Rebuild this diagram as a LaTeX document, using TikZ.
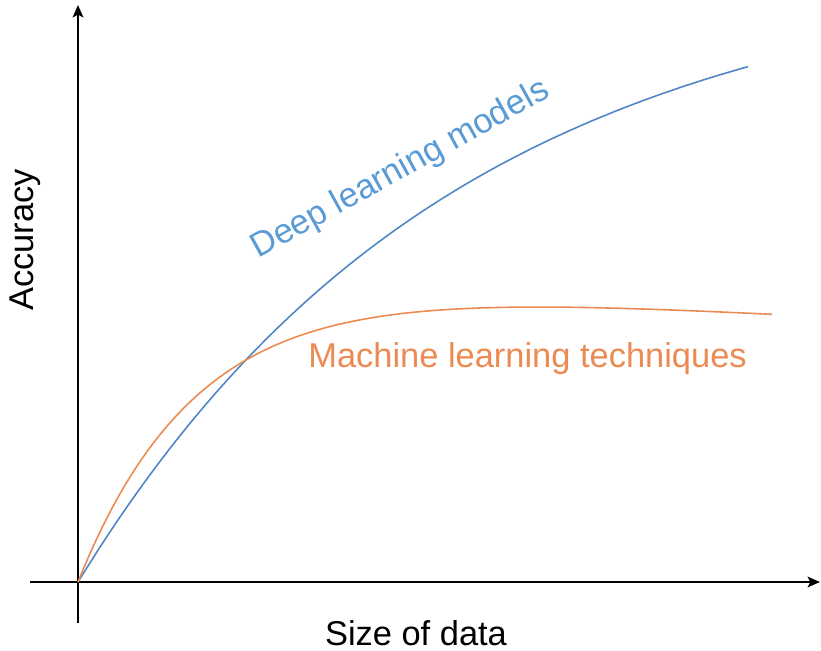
\documentclass[tikz,border=0pt]{standalone}
\usepackage{fontspec}
\setmainfont{Liberation Sans}
\usepackage{xcolor}
\definecolor{dlblue}{HTML}{4F86C6}
\definecolor{dltext}{HTML}{5B9BD5}
\definecolor{mlorange}{HTML}{EC8A52}
\usepackage{tikz}
\usetikzlibrary{arrows.meta}

\tikzset{
  axisline/.style={line width=1.4pt, -{Stealth[length=7pt, width=6pt, inset=1.5pt]}},
  curvelabel/.style={font=\fontsize{19.6}{23}\selectfont, inner sep=0pt},
}

\begin{document}
\begin{tikzpicture}[x=0.02cm, y=0.02cm]
    \useasboundingbox (-78,-68) rectangle (743,582);
    % Axes
    \draw[axisline] (0,-41) -- (0,577);
    \draw[axisline] (-48,0) -- (742,0);
    \node[curvelabel, rotate=90] (acc) at (-53,342) {Accuracy};
    \node[curvelabel] (size) at (338,-51) {Size of data};
    % Deep learning: keeps rising with more data
    \draw[dlblue, line width=0.9pt]
      plot[domain=0:670, samples=120] (\x, {622*(1-exp(-\x/380))});
    % Machine learning: saturates early
    \draw[mlorange, line width=0.9pt]
      plot[domain=0:694, samples=120] (\x, {307*(1-exp(-\x/120))-0.0553*\x});
    % Curve labels
    \node[curvelabel, dltext, rotate=29, anchor=base west] (dl) at (180,323) {Deep learning models};
    \node[curvelabel, mlorange, anchor=base west] (ml) at (230,215) {Machine learning techniques};
\end{tikzpicture}
\end{document}
